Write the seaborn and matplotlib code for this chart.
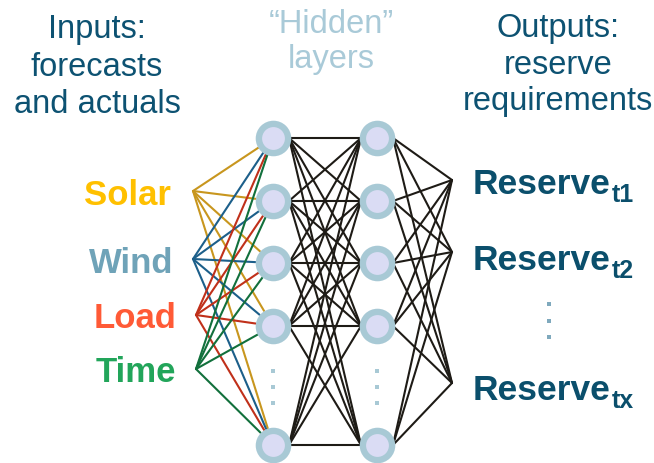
import numpy as np
import pandas as pd
import matplotlib.pyplot as plt
import seaborn as sns

# layout data (pixel-like coordinates, y downwards)
inputs = ["Solar", "Wind", "Load", "Time"]
input_text_colors = ["#ffc000", "#6fa3b8", "#ff5a36", "#22a55a"]
input_line_colors = ["#c8961e", "#1c5f8a", "#c0301a", "#12703c"]
input_x = [193, 193, 196, 196]
input_y = [192, 260, 316, 370]
label_right = [171, 173, 176, 176]
label_base = [205, 273, 328, 382]

layer_x = [273, 377]
node_y = [139, 202, 264, 327, 446]
dots_y = [372, 388, 404]

outputs = ["t1", "t2", "tx"]
output_x = 452
output_y = [181, 253, 384]
output_base = [194, 270, 400]
out_dots_y = [305, 322, 338]

headers = [
    (97, ["Inputs:", "forecasts", "and actuals"], [38, 76, 113], "#0d5272"),
    (331, ["\u201cHidden\u201d", "layers"], [33, 68], "#a9cad8"),
    (558, ["Outputs:", "reserve", "requirements"], [37, 74, 110], "#0d5272"),
]

sns.set_theme(style="white")
plt.rcParams["font.family"] = ["Liberation Sans", "DejaVu Sans"]

fig = plt.figure(figsize=(6.54, 4.64), dpi=100)
ax = fig.add_axes([0, 0, 1, 1])
ax.set_xlim(0, 654)
ax.set_ylim(464, 0)
ax.axis("off")

R = 17.5  # outer ring radius
lw = 1.5

# input -> hidden layer 1
for i in range(len(inputs)):
    for ny in node_y:
        dx, dy = input_x[i] - layer_x[0], input_y[i] - ny
        d = np.hypot(dx, dy)
        ex, ey = layer_x[0] + R * dx / d, ny + R * dy / d
        ax.plot([input_x[i], ex], [input_y[i], ey], color=input_line_colors[i], lw=lw, zorder=1)

# hidden 1 -> hidden 2
for a in node_y:
    for b in node_y:
        ax.plot([layer_x[0] + 16, layer_x[1] - 16], [a, b], color="#1e1b16", lw=lw, zorder=1)

# hidden 2 -> outputs
for a in node_y:
    for b in output_y:
        ax.plot([layer_x[1] + 16, output_x], [a, b], color="#1e1b16", lw=lw, zorder=1)

# nodes
nodes = pd.DataFrame([(x, y) for x in layer_x for y in node_y], columns=["x", "y"])
sns.scatterplot(data=nodes, x="x", y="y", s=656, color="#a8c9d5", linewidth=0, ax=ax, zorder=3)
sns.scatterplot(data=nodes, x="x", y="y", s=270, color="#dadcf4", linewidth=0, ax=ax, zorder=4)

dots = pd.DataFrame([(x, y) for x in layer_x for y in dots_y], columns=["x", "y"])
sns.scatterplot(data=dots, x="x", y="y", s=12, marker="s", color="#a8c9d5", linewidth=0, ax=ax, zorder=3)
sns.scatterplot(x=[549] * 3, y=out_dots_y, s=12, marker="s", color="#7fa9bd", linewidth=0, ax=ax, zorder=3)

# headers
for cx, lines, bases, col in headers:
    for txt, b in zip(lines, bases):
        ax.text(cx, b, txt, ha="center", va="baseline", fontsize=23.5, color=col)

# input labels
for i, name in enumerate(inputs):
    ax.text(label_right[i], label_base[i], name, ha="right", va="baseline",
            fontsize=25, fontweight="bold", color=input_text_colors[i])

# output labels
fig.canvas.draw()
renderer = fig.canvas.get_renderer()
inv = ax.transData.inverted()
for sub, b in zip(outputs, output_base):
    t = ax.text(473, b, "Reserve", ha="left", va="baseline", fontsize=25.5,
                fontweight="bold", color="#0b4f6c")
    bb = t.get_window_extent(renderer)
    x_end = inv.transform((bb.x1, bb.y0))[0]
    ax.text(x_end + 1, b + 8, sub, ha="left", va="baseline", fontsize=18,
            fontweight="bold", color="#0b4f6c")

fig.savefig("out.png", dpi=100)
